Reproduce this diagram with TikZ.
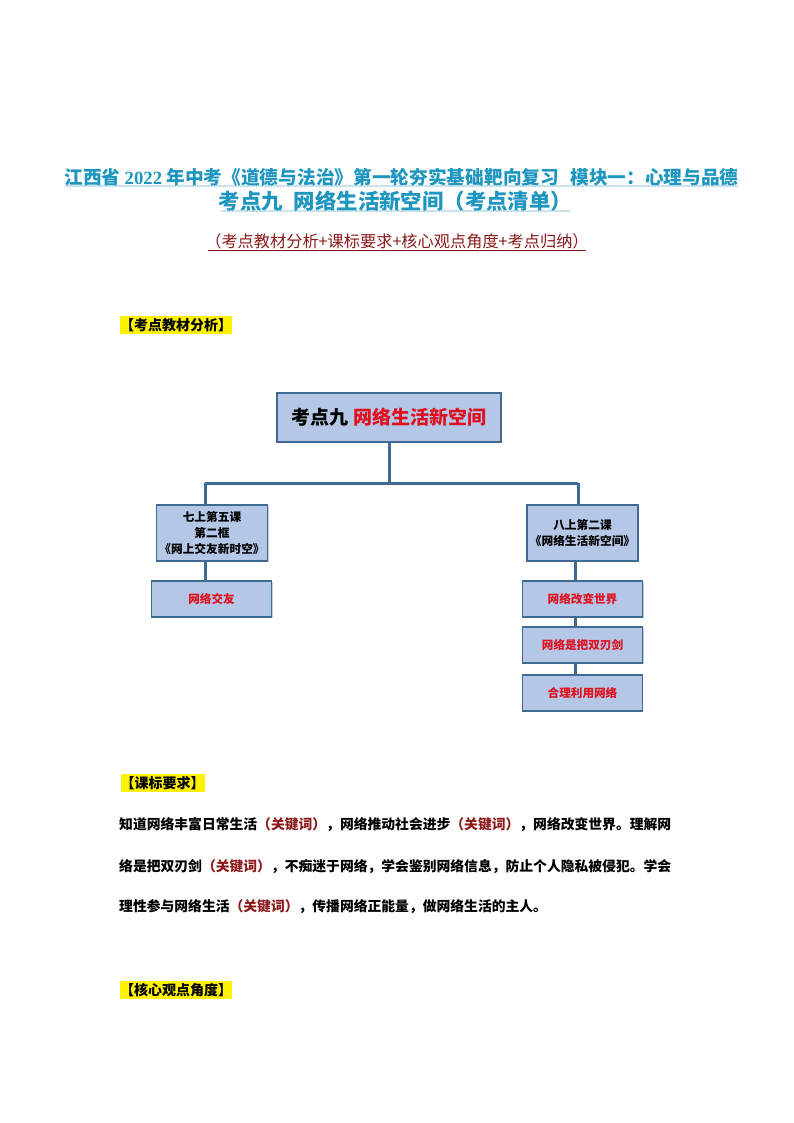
\documentclass[tikz,border=0pt]{standalone}
\usepackage{fontspec}
\setmainfont{Noto Sans CJK SC}
\newfontfamily\numfont{Liberation Serif}
\usetikzlibrary{shadows,decorations.pathmorphing}
\definecolor{titleblue}{HTML}{1E96C0}
\definecolor{waveblue}{HTML}{A9D3E3}
\definecolor{subred}{HTML}{8B1A1A}
\definecolor{boxfill}{HTML}{B4C7E7}
\definecolor{boxline}{HTML}{3F6A94}
\definecolor{keyred}{HTML}{E0101F}
\newcommand{\fsize}[1]{\fontsize{#1}{#1}\selectfont}
\begin{document}
\begin{tikzpicture}[x=1pt, y=-1pt]
        \tikzset{title/.style={text=titleblue, font=\fsize{18.7}\bfseries, inner sep=0pt}}
        \tikzset{wave/.style={waveblue, thick, decorate,
                              decoration={snake, amplitude=0.7pt, segment length=3pt}}}
        \tikzset{section/.style={fill=yellow, font=\fsize{14}\bfseries,
                                 inner xsep=0pt, minimum height=18pt, inner ysep=0pt}}
        \tikzset{body/.style={anchor=west, font=\fsize{13.8}\bfseries, inner sep=0pt}}
        \tikzset{card/.style={draw=boxline, fill=boxfill, line width=1.5pt,
                              inner sep=0pt, align=center}}
        \tikzset{soft/.style={drop shadow={shadow xshift=1pt, shadow yshift=-1pt,
                                           opacity=0.4}}}
        \tikzset{leaf/.style={card, minimum width=120pt, minimum height=36pt,
                              text=keyred, font=\fsize{11.6}\bfseries}}
        \tikzset{lesson/.style={card, minimum width=111pt, minimum height=56pt,
                                font=\fontsize{11.7}{16}\selectfont\bfseries}}
        \tikzset{link/.style={boxline, line width=3pt}}
        \newcommand{\key}{\textcolor{subred}{（关键词）}}

        \useasboundingbox (0, 0) rectangle (794, 1123);
        \fill[white] (0, 0) rectangle (794, 1123);

        \node[title] (title1) at (401.5, 177)
              {江西省 {\numfont 2022} 年中考《道德与法治》第一轮夯实基础靶向复习\hspace{0.6em}模块一：心理与品德};
        \node[title, font=\fsize{21.4}\bfseries] (title2) at (395.5, 201)
              {考点九\hspace{0.5em}网络生活新空间（考点清单）};
        \node[text=subred, font=\fsize{16.2}, inner sep=0pt] (subtitle) at (397, 241)
              {（考点教材分析+课标要求+核心观点角度+考点归纳）};

        \coordinate (wave1a) at (65, 186);
        \coordinate (wave1b) at (738, 186);
        \coordinate (wave2a) at (221, 211);
        \coordinate (wave2b) at (570, 211);
        \coordinate (rulea) at (208, 250.5);
        \coordinate (ruleb) at (586, 250.5);
        \draw[wave] (wave1a) -- (wave1b);
        \draw[wave] (wave2a) -- (wave2b);
        \draw[subred, thick] (rulea) -- (ruleb);

        \node[section] (sec1) at (176, 325) {【考点教材分析】};
        \node[section] (sec2) at (162.5, 783) {【课标要求】};
        \node[section] (sec3) at (176, 990) {【核心观点角度】};

        \node[card, soft, minimum width=224pt, minimum height=49pt,
              font=\fsize{19}\bfseries] (topbox) at (389, 417.5)
              {考点九 \textcolor{keyred}{网络生活新空间}};

        \node[lesson, soft] (lessonl) at (212, 533)
              {七上第五课\\第二框\\《网上交友新时空》};
        \node[lesson, soft] (lessonr) at (582.5, 533)
              {八上第二课\\《网络生活新空间》};

        \node[leaf, soft] (leafa) at (211.5, 599) {网络交友};
        \node[leaf, soft] (leafb) at (582.5, 599) {网络改变世界};
        \node[leaf, soft] (leafc) at (582.5, 645) {网络是把双刃剑};
        \node[leaf] (leafd) at (582.5, 693) {合理利用网络};

        \coordinate (joint) at (topbox.south |- 0, 483);
        \coordinate (jointl) at (205, 483);
        \coordinate (jointr) at (578, 483);
        \coordinate (riser) at (575.5, 560);

        \draw[link] (topbox.south) -- (joint);
        \draw[link] (jointl) -- (jointr);
        \draw[link] (jointl) -- (jointl |- lessonl.north);
        \draw[link] (jointr) -- (jointr |- lessonr.north);
        \draw[link] (jointl |- lessonl.south) -- (jointl |- leafa.north);
        \draw[link] (riser |- lessonr.south) -- (riser |- leafb.north);
        \draw[link] (riser |- leafb.south) -- (riser |- leafc.north);
        \draw[link] (riser |- leafc.south) -- (riser |- leafd.north);

        \node[body] (line1) at (119, 825)
              {知道网络丰富日常生活\key，网络推动社会进步\key，网络改变世界。理解网};
        \node[body] (line2) at (119, 867)
              {络是把双刃剑\key，不痴迷于网络，学会鉴别网络信息，防止个人隐私被侵犯。学会};
        \node[body] (line3) at (119, 907)
              {理性参与网络生活\key，传播网络正能量，做网络生活的主人。};
      \end{tikzpicture}
\end{document}
